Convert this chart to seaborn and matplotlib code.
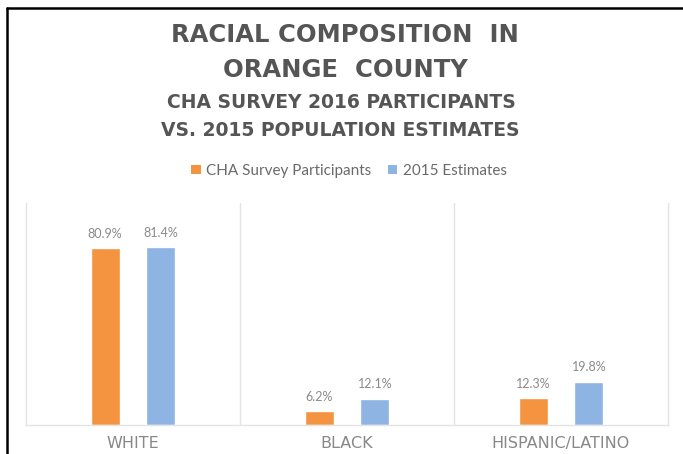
import matplotlib
matplotlib.use("Agg")
import matplotlib.pyplot as plt
import seaborn as sns
import pandas as pd
from matplotlib.lines import Line2D
from matplotlib.patches import Patch

categories = ["WHITE", "BLACK", "HISPANIC/LATINO"]
series_names = ["CHA Survey Participants", "2015 Estimates"]
cha_values = [80.9, 6.2, 12.3]
est_values = [81.4, 12.1, 19.8]
colors = ["#F59440", "#8EB4E3"]

df = pd.DataFrame({
    "category": categories * 2,
    "series": [series_names[0]] * 3 + [series_names[1]] * 3,
    "value": cha_values + est_values,
})

sns.set_style("white")
plt.rcParams["font.family"] = ["Lato", "DejaVu Sans"]

W, H = 683, 454
fig = plt.figure(figsize=(W / 100, H / 100), dpi=100)
fig.patch.set_facecolor("white")
ax = fig.add_axes([26 / W, 1 - 425 / H, (668 - 26) / W, (425 - 203) / H])

sns.barplot(data=df, x="category", y="value", hue="series", order=categories,
            hue_order=series_names, palette=colors, width=0.52, gap=0.48,
            saturation=1, ax=ax, legend=False)

ax.set_ylim(0, 101.5)
ax.set_xlim(-0.5, 2.5)
ax.set_xlabel("")
ax.set_ylabel("")
ax.set_yticks([])
ax.tick_params(axis="x", length=0, pad=8, labelsize=11.5, labelcolor="#888888")
for lab in ax.get_xticklabels():
    lab.set_fontfamily(["DejaVu Sans"])

ax.spines["top"].set_visible(False)
for side in ["left", "right", "bottom"]:
    ax.spines[side].set_color("#e4e4e4")
    ax.spines[side].set_linewidth(1.0)

for xb in [0.5, 1.5]:
    ax.axvline(xb, color="#e4e4e4", lw=1.0, zorder=0)

for cont in ax.containers:
    ax.bar_label(cont, labels=[f"{v:.1f}%" for v in cont.datavalues],
                 padding=6, fontsize=9, color="#8a8a8a")

title_color = "#555555"
title_font = ["DejaVu Sans"]
fig.text(345 / W, 1 - 35 / H, "RACIAL COMPOSITION  IN", ha="center", va="center",
         fontsize=17.5, fontweight="bold", color=title_color, family=title_font)
fig.text(345 / W, 1 - 70 / H, "ORANGE  COUNTY", ha="center", va="center",
         fontsize=17.5, fontweight="bold", color=title_color, family=title_font)
fig.text(341 / W, 1 - 102 / H, "CHA SURVEY 2016 PARTICIPANTS", ha="center", va="center",
         fontsize=13.5, fontweight="bold", color=title_color, family=title_font)
fig.text(340 / W, 1 - 131 / H, "VS. 2015 POPULATION ESTIMATES", ha="center", va="center",
         fontsize=13.5, fontweight="bold", color=title_color, family=title_font)

handles = [Patch(facecolor=c, edgecolor="none") for c in colors]
fig.legend(handles, series_names, loc="center", bbox_to_anchor=(349 / W, 1 - 171 / H),
           ncol=2, frameon=False, fontsize=11, labelcolor="#6a6a6a",
           handlelength=0.6, handleheight=0.6, handletextpad=0.35, columnspacing=1.1)

# outer black frame (top and left edges)
fig.add_artist(Line2D([6.5 / W, 6.5 / W], [0, 1 - 8 / H], color="black", lw=1.8,
                      transform=fig.transFigure))
fig.add_artist(Line2D([6.5 / W, 1], [1 - 8 / H, 1 - 8 / H], color="black", lw=1.8,
                      transform=fig.transFigure))

fig.savefig("out.png", dpi=100, facecolor="white")
